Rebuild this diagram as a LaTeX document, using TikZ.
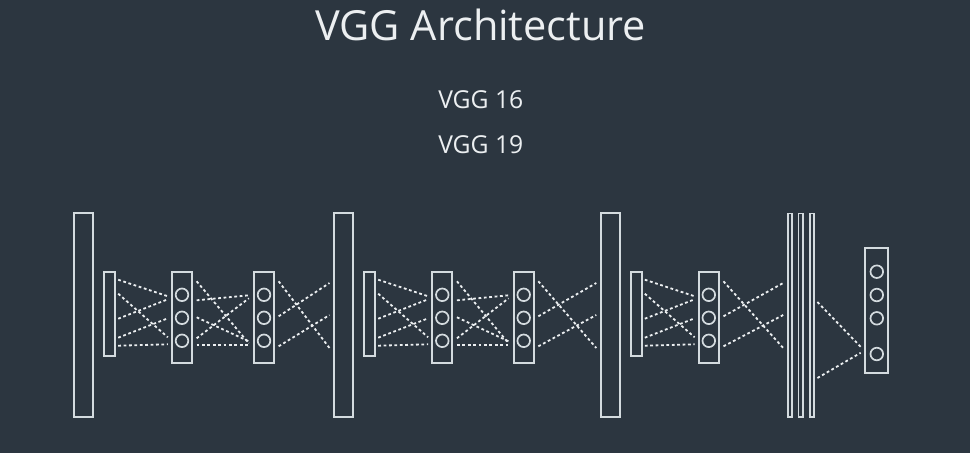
\documentclass[tikz,border=0pt]{standalone}
\usepackage{fontspec}
\setmainfont{Open Sans}
\usepackage{tikz}
\usetikzlibrary{calc}

\definecolor{slate}{RGB}{44,54,64}
\definecolor{chalk}{RGB}{212,219,223}
\definecolor{paper}{RGB}{236,239,241}

\tikzset{
  layer/.style = {draw = chalk, line width = 2.1pt, inner sep = 0pt},
  bigbar/.style = {layer, minimum width = 18.9pt, minimum height = 203.9pt},
  thinbar/.style = {layer, minimum width = 10.9pt, minimum height = 83.9pt},
  convbox/.style = {layer, minimum width = 20.2pt, minimum height = 91.2pt},
  fcbar/.style = {layer, line width = 1.8pt, minimum width = 4.2pt, minimum height = 203.2pt},
  outbox/.style = {layer, minimum width = 22.9pt, minimum height = 124.9pt},
  unit/.style = {circle, draw = chalk, line width = 1.7pt, minimum size = 12.6pt, inner sep = 0pt},
  link/.style = {draw = paper, line width = 1.8pt, dash pattern = on 2.8pt off 2.6pt}
}

\begin{document}
\begin{tikzpicture}[x = 1pt, y = -1pt]
        \useasboundingbox (0, 0) rectangle (970, 453);
        \fill[slate] (0, 0) rectangle (970, 453);

        \node[font = {\fontsize{41.5}{50}\selectfont}, paper, anchor = base] (title) at (480.8, 40) {VGG Architecture};

        \node[font = {\fontsize{24.7}{30}\selectfont}, paper, anchor = base] (vgg16) at (480.8, 108.3) {VGG 16};

        \node[font = {\fontsize{24.7}{30}\selectfont}, paper, anchor = base] (vgg19) at (480.8, 153.3) {VGG 19};

        % pooling bars
        \node[bigbar] (bar1) at (83.5, 315) {};
        \node[bigbar] (bar2) at (343.5, 315) {};
        \node[bigbar] (bar3) at (610.3, 315) {};

        % input slices
        \node[thinbar] (thin1) at (109.7, 313.7) {};
        \node[thinbar] (thin2) at (369.7, 313.7) {};
        \node[thinbar] (thin3) at (636.3, 313.7) {};

        % conv blocks
        \node[convbox] (convA) at (182, 317.3) {};
        \node[convbox] (convB) at (264, 317.3) {};
        \node[convbox] (convC) at (442.3, 317.3) {};
        \node[convbox] (convD) at (523.7, 317.3) {};
        \node[convbox] (convE) at (708.8, 317.3) {};

        \foreach \b in {convA, convB, convC, convD, convE}
          \foreach \k/\dy in {1/-22.5, 2/0.5, 3/23.5}
            \node[unit] (\b-\k) at ($(\b.center) + (0, \dy)$) {};

        % fully connected
        \node[fcbar] (fc1) at (789.7, 315) {};
        \node[fcbar] (fc2) at (800.5, 315) {};
        \node[fcbar] (fc3) at (811.7, 315) {};

        \node[outbox] (out) at (876.8, 310.8) {};
        \foreach \k/\dy in {1/-39.1, 2/-15.8, 3/7.5, 4/43.2}
          \node[unit] (out-\k) at ($(out.center) + (0, \dy)$) {};

        % links
        \foreach \p/\q in {thin1/convA, thin2/convC, thin3/convE}
          \foreach \a/\b in {-34/-21, -20/20, 5/-18, 24/1, 32/27}
            \draw[link] ($(\p.east) + (2, \a)$) -- ($(\q.west) + (-3, \b)$);

        \foreach \p/\q in {convA/convB, convC/convD}
          \foreach \a/\b in {-36/26, -17/-22, 0/24, 21/-19, 28/28}
            \draw[link] ($(\p.east) + (3.5, \a)$) -- ($(\q.west) + (-4, \b)$);

        \foreach \p/\q in {convB/bar2, convD/bar3, convE/fc1}
          \foreach \a/\b in {-36/33, -1/-32, 29/0}
            \draw[link] ($(\p.east) + (3.5, \a)$) -- ($(\q.west) + (-3.5, \b)$);

        \draw[link] ($(fc3.east) + (2.7, -13)$) -- ($(out.west) + (-3.6, 36)$);
        \draw[link] ($(fc3.east) + (2.7, 63)$) -- ($(out.west) + (-3.6, 42)$);
    \end{tikzpicture}
\end{document}
